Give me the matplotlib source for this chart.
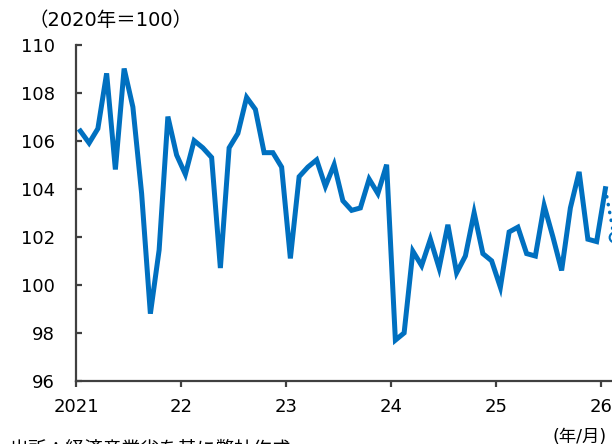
import matplotlib
matplotlib.use('Agg')
from matplotlib import pyplot as plt
import numpy as np

plt.rcParams['font.family'] = ['DejaVu Sans', 'Noto Sans CJK JP']

# monthly index, Jan 2021 - Jan 2026 (2020 = 100)
values = [106.4, 105.9, 106.5, 108.8, 104.8, 109.0, 107.4, 103.8, 98.8, 101.45, 107.0, 105.4,
          104.6, 106.0, 105.7, 105.3, 100.7, 105.7, 106.3, 107.8, 107.3, 105.5, 105.5, 104.9,
          101.1, 104.5, 104.9, 105.2, 104.1, 105.0, 103.5, 103.1, 103.2, 104.4, 103.8, 105.0,
          97.7, 98.0, 101.4, 100.8, 101.9, 100.7, 102.5, 100.5, 101.2, 103.0, 101.3, 101.0,
          99.9, 102.2, 102.4, 101.3, 101.2, 103.3, 102.0, 100.6, 103.2, 104.7, 101.9, 101.8,
          104.0]
forecast = [104.0, 102.0]  # last actual -> next month projection
year_labels = ['2021', '22', '23', '24', '25', '26']
blue = '#0070C0'
dark = '#404040'

fig = plt.figure(figsize=(6.12, 4.44), dpi=100)
ax = fig.add_axes([76 / 612, 1 - 381 / 444, 542.5 / 612, 336.5 / 444])

x = np.arange(len(values)) + 0.5
ax.plot(x, values, color=blue, lw=3.6, solid_joinstyle='miter', clip_on=False)
xf = np.arange(len(values) - 1, len(values) + 1) + 0.5
ax.plot(xf, forecast, color=blue, lw=2.5, linestyle=(0, (0.1, 2.2)),
        dash_capstyle='round', clip_on=False)
ax.plot(xf[-1:], forecast[-1:], marker='o', ms=7, mfc='white', mec=blue, mew=1.5,
        clip_on=False)

ax.set_xlim(0, 62)
ax.set_ylim(96, 110)
ax.set_yticks(np.arange(96, 111, 2))
ax.set_xticks(np.arange(0, 61, 12))
ax.set_xticklabels(year_labels)

for s in ['top', 'right']:
    ax.spines[s].set_visible(False)
for s in ['left', 'bottom']:
    ax.spines[s].set_color(dark)
    ax.spines[s].set_linewidth(1.6)
ax.tick_params(axis='y', direction='in', length=4, width=1.6, color=dark,
               labelsize=13, pad=15)
ax.tick_params(axis='x', direction='out', length=4, width=1.6, color=dark,
               labelsize=13, pad=8)

fig.text(28 / 612, 1 - 21 / 444, '（2020年＝100）', fontsize=14, ha='left', va='center')
fig.text(553 / 612, 1 - 437 / 444, '(年/月)', fontsize=12.5, ha='left', va='center')
fig.text(10 / 612, 1 - 449 / 444, '出所：経済産業省を基に弊社作成', fontsize=13.5,
         ha='left', va='center')

fig.savefig('out.png', dpi=100)
